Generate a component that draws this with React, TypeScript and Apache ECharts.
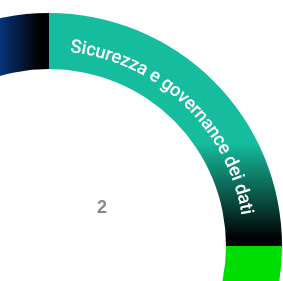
import React, { useEffect, useRef } from "react";
import * as echarts from "echarts";

const categories = ["Sicurezza e governance dei dati", "", "", ""];
const values = [1, 1, 1, 1];
const centerLabel = "2";

const FONT = "500 18.5px Roboto, Arial, sans-serif";

function gradientFor(i: number) {
  if (i === 0) {
    return new echarts.graphic.LinearGradient(0, 0, 0, 1, [
      { offset: 0, color: "#16bc9e" },
      { offset: 0.56, color: "#16bc9e" },
      { offset: 0.97, color: "#000000" },
      { offset: 1, color: "#000000" },
    ]);
  }
  if (i === 1) {
    return new echarts.graphic.LinearGradient(0, 0, 1, 0, [
      { offset: 0, color: "#000000" },
      { offset: 0.35, color: "#00dd00" },
      { offset: 1, color: "#00dd00" },
    ]);
  }
  if (i === 2) {
    return new echarts.graphic.LinearGradient(1, 0, 0, 0, [
      { offset: 0, color: "#7a1fa2" },
      { offset: 1, color: "#000000" },
    ]);
  }
  return new echarts.graphic.LinearGradient(0, 0, 1, 0, [
    { offset: 0, color: "#0a3d91" },
    { offset: 0.76, color: "#0a3d91" },
    { offset: 0.96, color: "#000000" },
    { offset: 1, color: "#000000" },
  ]);
}

export default function App() {
  const ref = useRef<HTMLDivElement>(null);
  useEffect(() => {
    if (!ref.current) return;
    const chart = echarts.init(ref.current, undefined, { renderer: "svg" });
    const cx = 49;
    const cy = 246;
    const rIn = 177;
    const rOut = 233;
    const rText = 201;

    const canvas = document.createElement("canvas");
    const ctx = canvas.getContext("2d")!;
    ctx.font = FONT;

    const total = values.reduce((a, b) => a + b, 0);
    const graphics: any[] = [];
    let cum = 0;
    values.forEach((v, i) => {
      const startDeg = 90 - (360 * cum) / total;
      const endDeg = 90 - (360 * (cum + v)) / total;
      cum += v;
      const name = categories[i];
      if (!name) return;
      const mid = ((startDeg + endDeg) / 2 + 1.5) * (Math.PI / 180);
      const W = ctx.measureText(name).width;
      const span = W / rText;
      let s = 0;
      for (const ch of name) {
        const w = ctx.measureText(ch).width;
        const theta = mid + span / 2 - (s + w / 2) / rText;
        s += w;
        if (ch === " ") continue;
        graphics.push({
          type: "text",
          x: cx + rText * Math.cos(theta),
          y: cy - rText * Math.sin(theta),
          rotation: theta - Math.PI / 2,
          silent: true,
          z: 10,
          style: {
            text: ch,
            font: FONT,
            fill: "#ffffff",
            align: "center",
            verticalAlign: "middle",
          },
        });
      }
    });

    graphics.push({
      type: "text",
      x: 102,
      y: 207,
      silent: true,
      style: {
        text: centerLabel,
        font: "bold 18px Arial, 'Liberation Sans', sans-serif",
        fill: "#888888",
        align: "center",
        verticalAlign: "middle",
      },
    });

    chart.setOption({
      animation: false,
      series: [
        {
          type: "pie",
          center: [cx, cy],
          radius: [rIn, rOut],
          startAngle: 90,
          clockwise: true,
          silent: true,
          label: { show: false },
          labelLine: { show: false },
          data: values.map((v, i) => ({
            name: categories[i],
            value: v,
            itemStyle: { color: gradientFor(i) },
          })),
        },
      ],
      graphic: graphics,
    });
    return () => chart.dispose();
  }, []);
  return (
    <div
      ref={ref}
      style={{ position: "fixed", left: 0, top: 0, width: 283, height: 281 }}
    />
  );
}
